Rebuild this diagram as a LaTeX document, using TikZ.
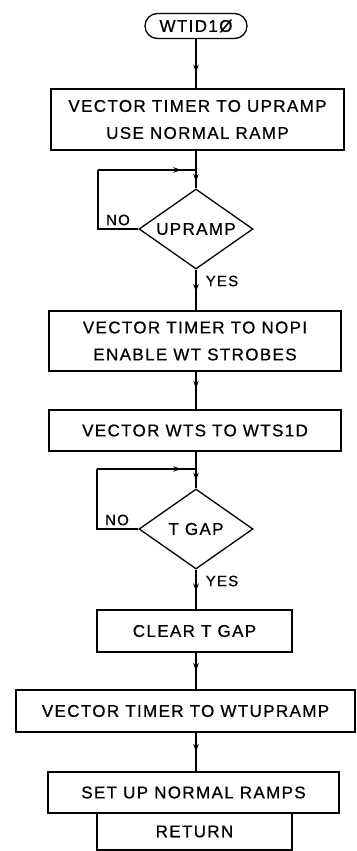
\documentclass[tikz,border=0pt]{standalone}
\usepackage{fontspec}
\setmainfont{Liberation Sans}[LetterSpace=8, FakeBold=0.7]
\usetikzlibrary{shapes.geometric,decorations.markings,arrows.meta}
\tikzset{
  base/.style={draw, line width=1.3pt, inner sep=0pt, align=center,
    font=\fontsize{17}{27}\selectfont},
  proc/.style={base, rectangle},
  term/.style={base, rounded corners=12.5pt},
  dec/.style={base, diamond, aspect=1.425},
  conn/.style={line width=1.3pt},
  midarr/.style={postaction={decorate}, decoration={markings,
    mark=at position #1 with {\arrow{Stealth[length=8pt,width=5.5pt]}}}},
  midarr/.default=0.5,
  lbl/.style={font=\fontsize{15}{16}\selectfont, inner sep=0pt}
}
\begin{document}
\begin{tikzpicture}[x=1pt,y=-1pt]
\useasboundingbox (0,0) rectangle (356,851);
\fill[white] (0,0) rectangle (356,851);

\node[term, minimum width=102pt, minimum height=25pt] (t) at (196,26) {WTID1Ø};
\node[proc, minimum width=293pt, minimum height=61pt] (b1) at (197.5,119.5) {VECTOR TIMER TO UPRAMP\\USE NORMAL RAMP};
\node[dec, minimum width=114pt, minimum height=80pt] (d1) at (196,229) {UPRAMP};
\node[proc, minimum width=292pt, minimum height=60pt] (b2) at (195,341) {VECTOR TIMER TO NOPI\\ENABLE WT STROBES};
\node[proc, minimum width=292pt, minimum height=41pt] (b3) at (195,430.5) {VECTOR WTS TO WTS1D};
\node[dec, minimum width=114pt, minimum height=80pt] (d2) at (196,529) {T GAP};
\node[proc, minimum width=195pt, minimum height=42pt] (b4) at (194.5,631) {CLEAR T GAP};
\node[proc, minimum width=339pt, minimum height=42pt] (b5) at (185.5,711) {VECTOR TIMER TO WTUPRAMP};
\node[proc, minimum width=291pt, minimum height=41pt] (b6) at (193.5,792.5) {SET UP NORMAL RAMPS};
\node[proc, minimum width=195pt, minimum height=37pt] (b7) at (194.5,831.5) {RETURN};

% loop 1
\coordinate (j1) at (196,170);
\coordinate (l1a) at (98,229);
\coordinate (l1b) at (98,170);
% loop 2
\coordinate (j2) at (196,469);
\coordinate (l2a) at (97,529);
\coordinate (l2b) at (97,469);

\draw[conn, midarr=0.68] (t.south) -- (t.south |- b1.north);
\draw[conn] (j1 |- b1.south) -- (j1);
\draw[conn, midarr=0.65] (j1) -- (d1.north);
\draw[conn] (d1.west) -- (l1a) -- (l1b);
\draw[conn, midarr=0.85] (l1b) -- (j1);
\draw[conn, midarr=0.55] (d1.south) -- (d1.south |- b2.north);
\draw[conn, midarr=0.45] (d1.south |- b2.south) -- (d1.south |- b3.north);
\draw[conn] (j2 |- b3.south) -- (j2);
\draw[conn, midarr=0.6] (j2) -- (d2.north);
\draw[conn] (d2.west) -- (l2a) -- (l2b);
\draw[conn, midarr=0.85] (l2b) -- (j2);
\draw[conn, midarr=0.55] (d2.south) -- (d2.south |- b4.north);
\draw[conn, midarr=0.5] (d2.south |- b4.south) -- (d2.south |- b5.north);
\draw[conn, midarr=0.5] (d2.south |- b5.south) -- (d2.south |- b6.north);

\node[lbl] (no1) at (118,220) {NO};
\node[lbl] (yes1) at (222,281) {YES};
\node[lbl] (no2) at (117,520) {NO};
\node[lbl] (yes2) at (222,581) {YES};
\end{tikzpicture}
\end{document}
